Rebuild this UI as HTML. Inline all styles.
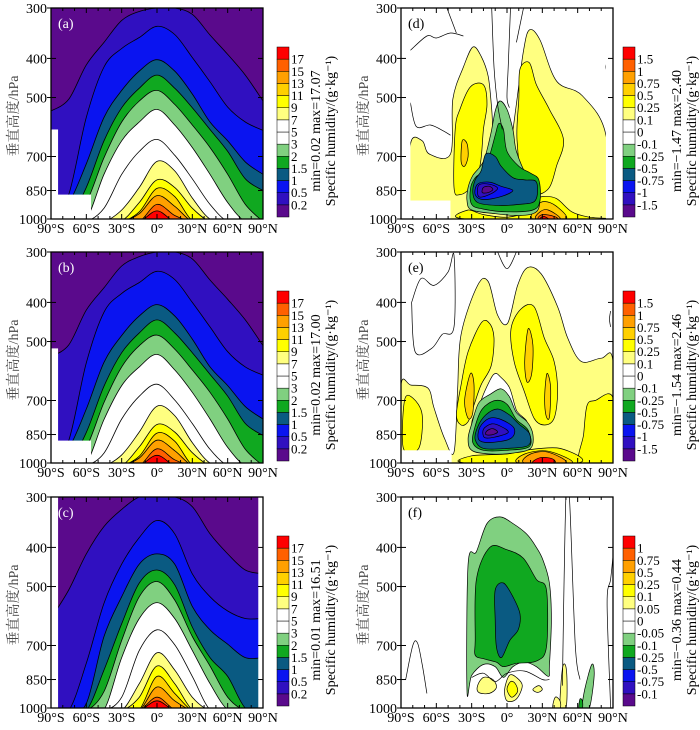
<!DOCTYPE html>
<html><head><meta charset="utf-8">
<style>
html,body{margin:0;padding:0;background:#fff;width:700px;height:730px;overflow:hidden;}
svg{display:block;font-family:"Liberation Serif","Noto Serif CJK SC",serif;overflow:hidden;}
</style></head>
<body>
<svg id="fig" width="700" height="730" viewBox="0 0 700 730" xmlns="http://www.w3.org/2000/svg"></svg>
<script>
// ---------- DATA ----------
const lats = [-90,-75,-60,-45,-30,-15,0,15,30,45,60,75,90];
const leftLevels = ['0.2','0.5','1','1.5','2','3','5','7','9','11','13','15','17'];
const rightLevelsDE = ['-1.5','-1','-0.75','-0.5','-0.25','-0.1','0','0.1','0.25','0.5','0.75','1','1.5'];
const rightLevelsF = ['-0.1','-0.75','-0.5','-0.25','-0.1','-0.05','0','0.05','0.1','0.25','0.5','0.75','1'];
const colors = ['#5a0a8c','#3010c0','#0a14f0','#0a5a82','#10a820','#80d080','#ffffff','#ffffff','#ffff80','#ffff00','#ffd000','#ffa000','#ff6000','#ff0000'];
const yTicks = [300,400,500,700,850,1000];
const xTickLats = [-90,-60,-30,0,30,60,90];
const xTickLabels = ['90°S','60°S','30°S','0°','30°N','60°N','90°N'];

const aB = [
 [540,505,415,365,322,306,300,300,311,350,391,440,510],
 [1050,870,560,420,378,355,333,349,398,457,528,575,603],
 [1100,915,730,560,480,430,403,430,490,575,640,722,775],
 [1200,1000,835,640,530,474,440,474,530,600,680,795,850],
 [1300,1100,910,705,575,510,480,520,585,665,775,920,1050],
 [1300,1200,1000,775,640,575,535,585,665,775,910,1050,1100],
 [1300,1200,1100,940,775,680,635,695,795,920,1050,1100,1200],
 [1300,1300,1200,1100,950,835,720,760,887,1000,1100,1200,1300],
 [1300,1300,1300,1200,1010,910,800,835,940,1050,1200,1300,1300],
 [1300,1300,1300,1300,1100,960,840,880,1010,1100,1300,1300,1300],
 [1300,1300,1300,1300,1200,970,875,930,1050,1300,1300,1300,1300],
 [1300,1300,1300,1300,1300,1020,920,980,1100,1300,1300,1300,1300],
 [1300,1300,1300,1300,1300,1050,955,1020,1200,1300,1300,1300,1300]
];
const bB = [
 [545,510,418,368,325,308,300,300,312,352,393,442,512],
 [1050,880,565,423,380,357,335,351,400,460,530,578,606],
 [1100,920,735,563,483,432,405,432,493,578,643,725,778],
 [1200,1000,840,645,533,476,442,476,533,603,683,798,855],
 [1300,1100,915,708,578,512,482,522,588,668,778,925,1050],
 [1300,1200,1000,780,643,578,538,588,668,778,915,1050,1100],
 [1300,1200,1100,945,778,683,638,698,798,925,1050,1100,1200],
 [1300,1300,1200,1100,955,838,723,763,890,1000,1100,1200,1300],
 [1300,1300,1300,1200,1015,912,803,838,943,1050,1200,1300,1300],
 [1300,1300,1300,1300,1100,962,843,883,1012,1100,1300,1300,1300],
 [1300,1300,1300,1300,1200,972,878,932,1052,1300,1300,1300,1300],
 [1300,1300,1300,1300,1300,1022,922,982,1100,1300,1300,1300,1300],
 [1300,1300,1300,1300,1300,1052,957,1022,1200,1300,1300,1300,1300]
];
const cB = [
 [600,510,415,355,322,300,300,300,317,370,415,455,465],
 [1100,1050,775,550,440,378,343,370,465,530,575,600,600],
 [1200,1100,975,665,530,440,415,440,560,640,695,750,750],
 [1300,1200,1050,805,618,490,455,495,630,750,835,1000,1050],
 [1300,1300,1100,910,680,530,486,540,665,787,940,1050,1100],
 [1300,1300,1200,1010,750,600,548,600,720,870,1010,1100,1200],
 [1300,1300,1300,1200,940,720,640,697,835,1010,1200,1300,1300],
 [1300,1300,1300,1300,1200,870,730,805,940,1100,1300,1300,1300],
 [1300,1300,1300,1300,1300,940,787,870,1010,1300,1300,1300,1300],
 [1300,1300,1300,1300,1300,1010,835,920,1100,1300,1300,1300,1300],
 [1300,1300,1300,1300,1300,1050,887,960,1200,1300,1300,1300,1300],
 [1300,1300,1300,1300,1300,1100,940,1010,1300,1300,1300,1300,1300],
 [1300,1300,1300,1300,1300,1200,960,1050,1300,1300,1300,1300,1300]
];

const dPolys = [
 [8, [[-82,654],[-72,640],[-66,690],[-48,690],[-46,505],[-37,420],[-29,375],[-22,395],[-16,443],[-13,534],[-10,700],[0,760],[4,636],[8.5,505],[14,383],[19,340],[28,360],[42,455],[64,495],[84,620],[84,1000],[-82,1000]]],
 [9, [[-44,600],[-40,535],[-31,470],[-20,465],[-17,520],[-20,600],[-23,740],[-31,835],[-40,870],[-45,835]]],
 [9, [[11,425],[19,410],[25,465],[36,535],[48,636],[42,740],[36,835],[25,870],[14,835],[8.5,636],[10,505]]],
 [10,[[-38,640],[-34,650],[-33,700],[-36,740],[-39,720]]],
 [9, [[-35,1000],[-33,950],[-20,975],[0,990],[15,960],[22,900],[30,880],[42,890],[55,960],[70,990],[85,1000]]],
 [10,[[22,1000],[25,930],[32,905],[42,930],[50,1000]]],
 [11,[[25,1000],[28,960],[35,950],[45,1000]]],
 [12,[[27,1000],[30,975],[40,985],[42,1000]]],
 [13,[[28,1000],[31,985],[35,1000]]],
 [5, [[-6,510],[0,535],[5,600],[8,680],[17,780],[26,795],[28,880],[25,960],[10,980],[-10,970],[-30,950],[-34,900],[-33,835],[-29,780],[-20,720],[-14,620],[-10,540]]],
 [4, [[-7,580],[-3,600],[0,680],[10,740],[20,770],[27,800],[28,900],[22,950],[0,960],[-20,945],[-30,920],[-31,840],[-27,790],[-20,760],[-15,700],[-10,620]]],
 [3, [[-18,690],[-10,700],[-5,740],[5,790],[15,800],[25,810],[24,900],[10,920],[-10,925],[-25,910],[-29,860],[-27,800],[-22,760]]],
 [2, [[-25,820],[-15,810],[-5,830],[5,850],[-5,880],[-20,895],[-27,870]]],
 [1, [[-24,825],[-15,820],[-8,840],[-15,870],[-24,880]]],
 [0, [[-20,835],[-15,830],[-12,845],[-16,860],[-21,860]]]
];
const dLines = [
 [[-82,382],[-68,352],[-60,356],[-48,346],[-37,352]],
 [[-82,515],[-77,590],[-65,585],[-54,605],[-48,620]],
 [[-13,300],[-11,420],[-8,520],[-4,600]],
 [[3,300],[1,420],[0,500],[2,530]],
 [[-51,300],[-43,346]],
 [[14,300],[8,365]],
 [[86,400],[84,420],[86,440]]
];
const ePolys = [
 [8, [[-90,640],[-81.5,641],[-67,653],[-62,730],[-53,870],[-45,940],[-42,665],[-39,480],[-25,363],[-16,355],[-8,430],[0.6,450],[9,363],[17.5,328],[29,340],[43,410],[51.5,490],[63,560],[80,550],[90,560],[90,1000],[-90,1000]]],
 [6, [[-14,620],[-10,600],[-6,610],[2,650],[8,740],[15,800],[-28,820],[-22,700]]],
 [9, [[-39,640],[-33,530],[-22,450],[-15,450],[-11,490],[-13.5,575],[-22,640],[-28,718],[-33,790],[-39,805],[-43,760]]],
 [9, [[3.4,465],[12,415],[23,410],[31.7,490],[40,560],[43,665],[40,775],[31.7,805],[23,775],[14.7,665],[6,560]]],
 [9, [[68,720],[75,700],[90,690],[90,1000],[62,1000],[65,850]]],
 [9, [[-87,700],[-80,690],[-72,760],[-75,920],[-88,920]]],
 [10,[[-31,600],[-28,640],[-29,750],[-33,775],[-36,700]]],
 [10,[[18,465],[22,510],[21,600],[17,630],[15,560]]],
 [10,[[34,600],[37,650],[36,770],[33,760],[32,680]]],
 [9, [[-35,1000],[-30,960],[0,950],[15,930],[45,920],[60,1000]]],
 [10,[[10,1000],[15,950],[35,935],[55,1000]]],
 [11,[[15,1000],[20,950],[35,940],[50,1000]]],
 [13,[[22,1000],[28,970],[38,975],[40,1000]]],
 [5, [[-30,800],[-24,710],[-14,675],[-5,655],[2,685],[8,750],[17,790],[22,850],[20,920],[5,945],[-15,950],[-30,930],[-33,870]]],
 [4, [[-27,810],[-21,735],[-10,700],[0,715],[8,780],[18,830],[19,910],[0,930],[-20,930],[-29,890]]],
 [3, [[-25,815],[-18,760],[-8,735],[2,760],[10,800],[19,845],[18,905],[0,920],[-20,920],[-27,875]]],
 [2, [[-23,815],[-15,775],[-5,780],[6,820],[3,870],[-15,890],[-24,875]]],
 [1, [[-20,825],[-13,800],[-5,812],[1,840],[-10,862],[-19,865]]],
 [0, [[-17,832],[-12,822],[-8,838],[-13,852],[-18,850]]]
];
const eLines = [
 [[-81,400],[-73,349],[-62,363],[-50,336],[-45,306],[-45,460],[-55,480],[-64,520],[-78,530],[-81,400]],
 [[-8,300],[0,330],[8,300]],
 [[88,420],[87,440],[88,460]]
];
const fPolys = [
 [5, [[-34,905],[-33,440],[-26,410],[-17,349],[-6,336],[5,349],[16.5,370],[25,400],[30.6,430],[36,490],[37.7,605],[36,787],[35,835],[25,790],[15,770],[5,790],[-3,840],[-10,790],[-20,780],[-30,830]]],
 [4, [[-27,680],[-26,480],[-14.6,400],[-0.4,405],[13.7,425],[25,480],[33.5,510],[33.5,705],[25,765],[8,775],[-3,790],[-9,770],[-20,755],[-27,740]]],
 [3, [[-10,510],[-3,490],[5,530],[11,585],[9.5,640],[2.4,680],[-4.7,750],[-9,705],[-10,605]]],
 [8, [[-25,880],[-20,840],[-12,850],[-9,890],[-15,920],[-24,915]]],
 [8, [[-2,900],[2,830],[8,840],[13,880],[8,950],[0,960]]],
 [9, [[0,900],[3,860],[7,870],[9,910],[4,940]]],
 [8, [[22,900],[27,880],[30,900],[26,915]]],
 [8, [[45,1000],[47,800],[50,790],[51,900],[50,1000]]],
 [8, [[39,1000],[41,940],[45,960],[45,1000]]],
 [5, [[64,1000],[66,900],[72,780],[74,830],[70,1000]]],
 [4, [[61,1000],[62,950],[64,960],[64,1000]]]
];
const fLines = [
 [[-86,850],[-80,700],[-76,690],[-72,780],[-68,920]],
 [[47,880],[50,300],[53,300],[58,700],[62,850]],
 [[88,1000],[85,550],[88,480],[90,420]],
 [[-30,840],[-20,820],[-10,860],[0,820],[15,810],[30,850],[36,850]]
];

const panels = [
 {id:'a', x0:51,  y0:8,   type:'L', B:aB, levels:leftLevels, minmax:'min=0.02 max=17.07', mask:[[-84,600],[-56,870]]},
 {id:'b', x0:51,  y0:252, type:'L', B:bB, levels:leftLevels, minmax:'min=0.02 max=17.00', mask:[[-84,520],[-56,880]]},
 {id:'c', x0:51,  y0:497, type:'L', B:cB, levels:leftLevels, minmax:'min=0.01 max=16.51', strips:true},
 {id:'d', x0:401, y0:8,   type:'R', P:dPolys, lines:dLines, levels:rightLevelsDE, minmax:'min=−1.47 max=2.40', mask:[[-82,300],[-48,900]], rmask:84},
 {id:'e', x0:401, y0:252, type:'R', P:ePolys, lines:eLines, levels:rightLevelsDE, minmax:'min=−1.54 max=2.46', mask:[[-47,930]]},
 {id:'f', x0:401, y0:497, type:'R', P:fPolys, lines:fLines, levels:rightLevelsF, minmax:'min=−0.36 max=0.44'}
];

// ---------- DRAW ----------
const NS='http://www.w3.org/2000/svg';
const svg=document.getElementById('fig');
const W=212,H=211;
function mk(tag,attrs,parent){const e=document.createElementNS(NS,tag);for(const k in attrs)e.setAttribute(k,attrs[k]);(parent||svg).appendChild(e);return e;}
function smooth(pts,closed){
  if(pts.length<3){return 'M'+pts.map(p=>p.join(',')).join('L');}
  const n=pts.length;let d='M'+pts[0][0].toFixed(1)+','+pts[0][1].toFixed(1);
  const get=i=>closed?pts[(i+n)%n]:pts[Math.max(0,Math.min(n-1,i))];
  const m=closed?n:n-1;
  for(let i=0;i<m;i++){
    const p0=get(i-1),p1=get(i),p2=get(i+1),p3=get(i+2);
    const c1=[p1[0]+(p2[0]-p0[0])/6,p1[1]+(p2[1]-p0[1])/6];
    const c2=[p2[0]-(p3[0]-p1[0])/6,p2[1]-(p3[1]-p1[1])/6];
    d+='C'+c1[0].toFixed(1)+','+c1[1].toFixed(1)+' '+c2[0].toFixed(1)+','+c2[1].toFixed(1)+' '+p2[0].toFixed(1)+','+p2[1].toFixed(1);
  }
  return d+(closed?'Z':'');
}
panels.forEach(P=>{
  const xs=lat=>P.x0+(lat+90)/180*W;
  const ys=p=>P.y0+Math.log(p/300)/Math.log(1000/300)*H;
  const g=mk('g',{});
  
  
  const cp=mk('clipPath',{id:'clip'+P.id},g);
  mk('rect',{x:P.x0,y:P.y0,width:W,height:H},cp);
  const plot=mk('g',{'clip-path':'url(#clip'+P.id+')'},g);
  
  
  if(P.type==='L'){
    const bg=mk('rect',{x:P.x0,y:P.y0,width:W,height:H,fill:colors[0]},plot);
    
    
    P.B.forEach((arr,i)=>{
      const pts=arr.map((p,j)=>[xs(lats[j]),ys(Math.min(p,1015))]);
      const d=smooth(pts,false);
      const fill=mk('path',{d:d+'L'+(P.x0+W)+','+(P.y0+H+1)+'L'+(P.x0)+','+(P.y0+H+1)+'Z',fill:colors[i+1],stroke:'none'},plot);
      
      
      const ln=mk('path',{d:d,fill:'none',stroke:'#000','stroke-width':0.8},plot);
      
      
    });
  } else {
    mk('rect',{x:P.x0,y:P.y0,width:W,height:H,fill:'#fff'},plot);
    P.P.forEach(([ci,pts])=>{
      const pp=mk('path',{d:smooth(pts.map(q=>[xs(q[0]),ys(q[1])]),true),fill:colors[ci],stroke:'#000','stroke-width':0.7},plot);
      
      
    });
    P.lines.forEach(pts=>{
      const l=mk('path',{d:smooth(pts.map(q=>[xs(q[0]),ys(q[1])]),false),fill:'none',stroke:'#000','stroke-width':0.7},plot);
      
      
    });
    if(P.rmask){mk('rect',{x:xs(P.rmask),y:P.y0,width:P.x0+W-xs(P.rmask),height:H,fill:'#fff'},plot);}
  }
  if(P.mask){P.mask.forEach(([lat,p])=>{
    const m=mk('rect',{x:P.x0,y:ys(p),width:xs(lat)-P.x0,height:P.y0+H-ys(p),fill:'#fff'},plot);
    
    
  });}
  if(P.strips){
    mk('rect',{x:P.x0,y:P.y0,width:xs(-84)-P.x0,height:H,fill:'#fff'},plot);
    mk('rect',{x:xs(86),y:P.y0,width:P.x0+W-xs(86),height:H,fill:'#fff'},plot);
  }
  const fr=mk('rect',{x:P.x0,y:P.y0,width:W,height:H,fill:'none',stroke:'#000','stroke-width':1.3},g);
  
  
  for(let lat=-90;lat<=90;lat+=10){
    const L=(lat%30===0)?5:3;
    mk('line',{x1:xs(lat),x2:xs(lat),y1:P.y0+H,y2:P.y0+H-L,stroke:'#000','stroke-width':1},g);
    mk('line',{x1:xs(lat),x2:xs(lat),y1:P.y0,y2:P.y0+L,stroke:'#000','stroke-width':1},g);
  }
  xTickLats.forEach((lat,i)=>{
    const t=mk('text',{x:xs(lat),y:P.y0+H+14,'font-size':14,'text-anchor':'middle'},g);
    t.textContent=xTickLabels[i];
    
    
  });
  yTicks.forEach(p=>{
    mk('line',{x1:P.x0-4,x2:P.x0+5,y1:ys(p),y2:ys(p),stroke:'#000','stroke-width':1},g);
    mk('line',{x1:P.x0+W-5,x2:P.x0+W,y1:ys(p),y2:ys(p),stroke:'#000','stroke-width':1},g);
    const t=mk('text',{x:P.x0-4,y:ys(p)+5,'font-size':14,'text-anchor':'end'},g);
    t.textContent=String(p);
    
    
  });
  const pl=mk('text',{x:P.x0+7,y:P.y0+20,'font-size':14,fill:P.type==='L'?'#fff':'#000'},g);
  pl.textContent='('+P.id+')';
  
  
  const yl=mk('text',{x:0,y:0,'font-size':14,fill:'#444','text-anchor':'middle',transform:'translate('+(P.x0-33)+','+(P.y0+108)+') rotate(-90)'},g);
  yl.textContent='垂直高度/hPa';
  
  
  const cb=mk('g',{},g);
  
  
  const cx=P.type==='L'?P.x0+W+14:P.x0+W+10, ct=P.y0+39, ch=170, bh=ch/14;
  for(let i=0;i<14;i++){
    const r=mk('rect',{x:cx,y:ct+ch-(i+1)*bh,width:12,height:bh,fill:colors[i],stroke:'#000','stroke-width':0.5},cb);
    
    
  }
  P.levels.forEach((lv,i)=>{
    const t=mk('text',{x:cx+14,y:ct+ch-(i+1)*bh+4.5,'font-size':13},cb);
    t.textContent=lv;
    
    
  });
  const mx=P.type==='L'?P.x0+W+57:P.x0+W+68;
  const mm=mk('text',{x:0,y:0,'font-size':14,'text-anchor':'middle',transform:'translate('+mx+','+(P.y0+123)+') rotate(-90)'},g);
  mm.textContent=P.minmax;
  
  
  const un=mk('text',{x:0,y:0,'font-size':14,'text-anchor':'middle',transform:'translate('+(mx+15)+','+(P.y0+123)+') rotate(-90)'},g);
  un.textContent='Specific humidity/(g·kg⁻¹)';
  
  
});
</script>
</body></html>
